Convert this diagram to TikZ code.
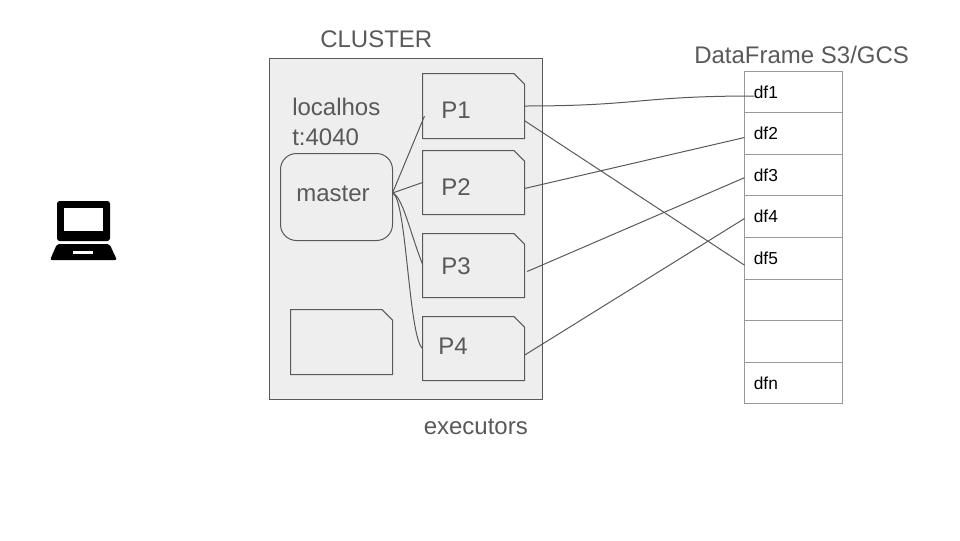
\documentclass[tikz,border=0pt]{standalone}
\usepackage{fontspec}
\setmainfont{Liberation Sans}
\definecolor{ink}{HTML}{595959}
\definecolor{panel}{HTML}{EEEEEE}
\definecolor{cellline}{HTML}{999999}
\tikzset{
  x=0.75pt,y=-0.75pt,
  boxline/.style={draw=ink,line width=0.75pt,fill=panel},
  snipbox/.style={rectangle,minimum width=76.5pt,minimum height=48pt,inner sep=0pt,outer sep=0pt,
    append after command={\pgfextra{\draw[ink,fill=panel,line width=0.75pt,line join=miter]
      (\tikzlastnode.south west) -- (\tikzlastnode.north west)
      -- ([xshift=-8pt]\tikzlastnode.north east) -- ([yshift=-8pt]\tikzlastnode.north east)
      -- (\tikzlastnode.south east) -- cycle;}}},
  tallsnip/.style={snipbox,minimum height=48.75pt},
  textlabel/.style={text=ink,font=\fontsize{18pt}{21pt}\selectfont,anchor=base west,inner sep=0pt},
  cell/.style={draw=cellline,line width=0.75pt,fill=white,minimum width=73.5pt,minimum height=#1,
    text width=59.5pt,inner xsep=7pt,inner ysep=0pt,outer sep=0pt,align=left,
    font=\fontsize{13pt}{15pt}\selectfont},
  link/.style={draw=ink,line width=0.75pt},
}
\begin{document}
\begin{tikzpicture}
\useasboundingbox (0,0) rectangle (960,540);
% cluster
\node[boxline,minimum width=204.75pt,minimum height=255.75pt,inner sep=0pt,outer sep=0pt] (cluster) at (405.75,228.75) {};
\node[boxline,rounded corners=12pt,minimum width=84pt,minimum height=65.25pt,inner sep=0pt,outer sep=0pt] (master) at (336.5,197) {};
\node[tallsnip] (P1) at (473.5,106) {};
\node[snipbox] (P2) at (473.5,182.5) {};
\node[snipbox] (P3) at (473.5,265.5) {};
\node[snipbox] (P4) at (473.5,348.5) {};
\node[tallsnip] (blank) at (341.5,342) {};
% table
\node[cell=30.75pt] (df1) at (793.5,92) {df1};
\node[cell=31.5pt] (df2) at (793.5,133.5) {df2};
\node[cell=30.75pt] (df3) at (793.5,175) {df3};
\node[cell=31.5pt] (df4) at (793.5,216.5) {df4};
\node[cell=31.5pt] (df5) at (793.5,258.5) {df5};
\node[cell=30.75pt] (df6) at (793.5,300) {};
\node[cell=31.5pt] (df7) at (793.5,341.5) {};
\node[cell=30.75pt] (dfn) at (793.5,383) {dfn};
% labels
\node[textlabel] (clusterlabel) at (320,47) {CLUSTER};
\node[textlabel] (dflabel) at (694,63) {DataFrame S3/GCS};
\node[textlabel] (execlabel) at (423.5,434) {executors};
\node[textlabel] (hostA) at (292,115) {localhos};
\node[textlabel] (hostB) at (292,145) {t:4040};
\node[textlabel] (masterlabel) at (296,201) {master};
\node[textlabel] (p1label) at (441,118) {P1};
\node[textlabel] (p2label) at (441,195) {P2};
\node[textlabel] (p3label) at (441,274) {P3};
\node[textlabel] (p4label) at (438,354) {P4};
% master links
\draw[link] ([yshift=3pt]master.east) -- ([xshift=1.5pt,yshift=-7.5pt]P1.west);
\draw[link] ([yshift=3pt]master.east) -- (P2.west);
\draw[link] ([yshift=3pt]master.east) .. controls +(10,3) and +(-12,-30) .. ([yshift=1pt]P3.west);
\draw[link] ([yshift=3pt]master.east) .. controls +(14,4) and +(-14,-12) .. (P4.west);
% data links
\draw[link] (P1.east) .. controls +(115,0) and +(-115,0) .. ([xshift=7.5pt,yshift=-3pt]df1.west);
\draw[link] ([yshift=-11pt]P1.east) -- ([yshift=-5pt]df5.west);
\draw[link] ([yshift=-4.5pt]P2.east) -- ([yshift=-3pt]df2.west);
\draw[link] ([xshift=2pt,yshift=-4.5pt]P3.east) -- ([yshift=-2pt]df3.west);
\draw[link] ([yshift=-5pt]P4.east) -- ([yshift=-1.5pt]df4.west);
% laptop
\fill[black,rounded corners=2pt] (57,241) -- (57,201) -- (110,201) -- (110,241) -- cycle;
\fill[white] (63.5,208) rectangle (103,231);
\fill[black,rounded corners=1.5pt] (57,244) -- (109.5,244) -- (117,260) -- (50,260) -- cycle;
\fill[white] (73,251) rectangle (93,254);
\end{tikzpicture}
\end{document}
